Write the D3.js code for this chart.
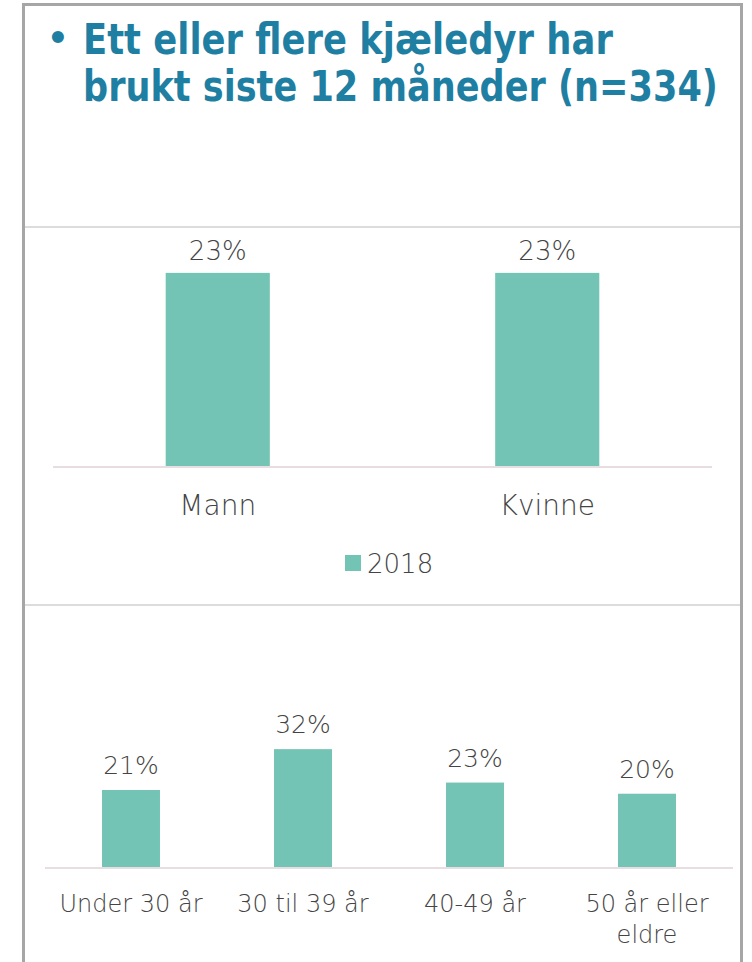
<!DOCTYPE html>
<html>
<head>
<meta charset="utf-8">
<script src="https://cdn.jsdelivr.net/npm/d3@7"></script>
<style>
  body { margin: 0; background: #fff; }
  svg { display: block; }
  text { font-family: "DejaVu Sans", sans-serif; fill: #595959; }
  .lbl { font-weight: 200; fill: #444; }
</style>
</head>
<body>
<div id="chart"></div>
<script>
// title lines
const titleLines = ['Ett eller flere kjæledyr har', 'brukt siste 12 måneder (n=334)'];

// gender chart
const genderCats = ['Mann', 'Kvinne'];
const genderVals = [23, 23];

// age chart
const ageCats = [['Under 30 år'], ['30 til 39 år'], ['40-49 år'], ['50 år eller', 'eldre']];
const ageVals = [21, 32, 23, 20];

const seriesName = '2018';
const barColor = '#73c4b4';

const svg = d3.select('#chart').append('svg').attr('width', 752).attr('height', 962);

// outer frame (open at the bottom)
svg.append('path')
    .attr('d', 'M23.5,962 V4.5 H741.5 V962')
    .attr('fill', 'none')
    .attr('stroke', '#a6a6a6')
    .attr('stroke-width', 3);

// title
svg.append('text')
    .attr('x', 47).attr('y', 50)
    .style('fill', '#1f7fa3')
    .style('font-size', '34px')
    .style('font-weight', 'bold')
    .text('•');

const titleEnds = [613, 718];
titleLines.forEach((t, i) => {
    const g = svg.append('g');
    const txt = g.append('text')
        .style('fill', '#1f7fa3')
        .style('font-size', '42px')
        .style('font-weight', 'bold')
        .text(t);
    // squeeze horizontally to the width seen in the picture
    const sx = (titleEnds[i] - 83) / txt.node().getComputedTextLength();
    g.attr('transform', 'translate(83,' + (54 + i * 47) + ') scale(' + sx + ',1)');
});

// separators
[227, 605].forEach(y => {
    svg.append('line')
        .attr('x1', 25).attr('x2', 740)
        .attr('y1', y).attr('y2', y)
        .attr('stroke', '#dcdcdc')
        .attr('stroke-width', 2);
});

// ---- chart 1: gender ----
const x1 = d3.scaleBand().domain(genderCats).range([53, 712])
    .paddingInner(0.684).paddingOuter(0.342);
const y1 = d3.scaleLinear().domain([0, 25]).range([467, 256]);

const g1 = svg.append('g');
g1.selectAll('rect')
    .data(genderVals)
    .enter().append('rect')
    .attr('x', (d, i) => x1(genderCats[i]))
    .attr('y', d => y1(d))
    .attr('width', x1.bandwidth())
    .attr('height', d => y1(0) - y1(d))
    .attr('fill', barColor);

g1.append('line')
    .attr('x1', 53).attr('x2', 712)
    .attr('y1', y1(0)).attr('y2', y1(0))
    .attr('stroke', '#e8dde1')
    .attr('stroke-width', 2);

g1.selectAll('text.val')
    .data(genderVals)
    .enter().append('text')
    .attr('class', 'val lbl')
    .attr('x', (d, i) => x1(genderCats[i]) + x1.bandwidth() / 2)
    .attr('y', d => y1(d) - 13)
    .attr('text-anchor', 'middle')
    .style('font-size', '26px')
    .text(d => d + '%');

g1.selectAll('text.cat')
    .data(genderCats)
    .enter().append('text')
    .attr('class', 'cat lbl')
    .attr('x', d => x1(d) + x1.bandwidth() / 2)
    .attr('y', 515)
    .attr('text-anchor', 'middle')
    .style('font-size', '28px')
    .text(d => d);

// legend
const leg = svg.append('g').attr('transform', 'translate(345,555)');
leg.append('rect').attr('width', 16).attr('height', 16).attr('fill', barColor);
leg.append('text').attr('class', 'lbl').attr('x', 22).attr('y', 18).style('font-size', '26px').text(seriesName);

// ---- chart 2: age ----
const ageKeys = ageCats.map(d => d.join(' '));
const x2 = d3.scaleBand().domain(ageKeys).range([45, 733])
    .paddingInner(0.663).paddingOuter(0.3315);
const y2 = d3.scaleLinear().domain([0, 35]).range([868, 738]);

const g2 = svg.append('g');
g2.selectAll('rect')
    .data(ageVals)
    .enter().append('rect')
    .attr('x', (d, i) => x2(ageKeys[i]))
    .attr('y', d => y2(d))
    .attr('width', x2.bandwidth())
    .attr('height', d => y2(0) - y2(d))
    .attr('fill', barColor);

g2.append('line')
    .attr('x1', 45).attr('x2', 733)
    .attr('y1', y2(0)).attr('y2', y2(0))
    .attr('stroke', '#e8dde1')
    .attr('stroke-width', 2);

g2.selectAll('text.val')
    .data(ageVals)
    .enter().append('text')
    .attr('class', 'val lbl')
    .attr('x', (d, i) => x2(ageKeys[i]) + x2.bandwidth() / 2)
    .attr('y', d => y2(d) - 16)
    .attr('text-anchor', 'middle')
    .style('font-size', '25px')
    .text(d => d + '%');

g2.selectAll('text.cat')
    .data(ageCats)
    .enter().append('text')
    .attr('class', 'cat lbl')
    .attr('x', (d, i) => x2(ageKeys[i]) + x2.bandwidth() / 2)
    .attr('y', 912)
    .attr('text-anchor', 'middle')
    .style('font-size', '24px')
    .selectAll('tspan')
    .data(d => d)
    .enter().append('tspan')
    .attr('x', function () { return d3.select(this.parentNode).attr('x'); })
    .attr('dy', (d, i) => i === 0 ? 0 : 31)
    .text(d => d);
</script>
</body>
</html>
